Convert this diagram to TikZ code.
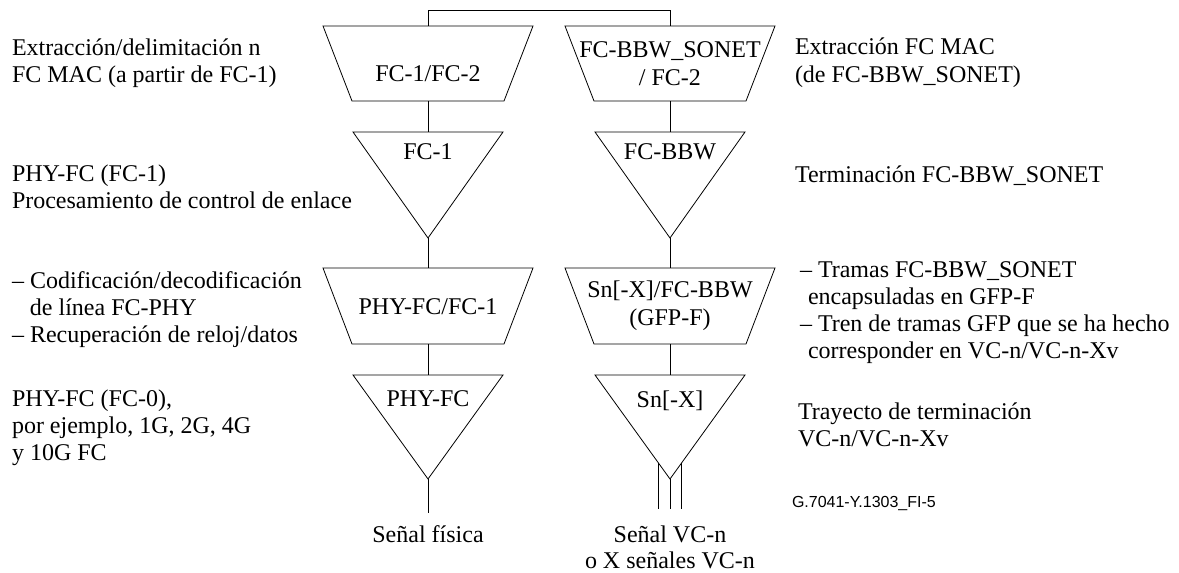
\documentclass[tikz,border=0pt]{standalone}
\usepackage{fontspec}
\setmainfont{Liberation Serif}
\newfontfamily\codefont{Liberation Sans}
\usetikzlibrary{calc}

\begin{document}
\begin{tikzpicture}[x=0.5pt,y=-0.5pt,
  every node/.style={inner sep=0pt, outer sep=0pt, font=\fontsize{12}{13.5}\selectfont},
  boxtext/.style={anchor=base, align=center, font=\fontsize{12}{14}\selectfont},
  desc/.style={anchor=base west, align=left}]

\useasboundingbox (0,0) rectangle (1179,573);

% Blocks of both columns (l = FC-PHY, r = FC-BBW over SONET)
\foreach \cx/\col in {428/l,670/r} {
  % adaptation (trapezium)
  \draw (\cx-105,26) -- (\cx+105,26) -- (\cx+76,101) -- (\cx-76,101) -- cycle;
  \draw (\cx-105,268) -- (\cx+105,268) -- (\cx+76,344) -- (\cx-76,344) -- cycle;
  % termination (triangle)
  \draw (\cx-75,132) -- (\cx+75,132) -- (\cx,238) -- cycle;
  \draw (\cx-75,375) -- (\cx+75,375) -- (\cx,479) -- cycle;
  \coordinate (adaone-\col-top) at (\cx,26);
  \coordinate (adaone-\col-bot) at (\cx,101);
  \coordinate (trmone-\col-top) at (\cx,132);
  \coordinate (trmone-\col-bot) at (\cx,238);
  \coordinate (adatwo-\col-top) at (\cx,268);
  \coordinate (adatwo-\col-bot) at (\cx,344);
  \coordinate (trmtwo-\col-top) at (\cx,375);
  \coordinate (trmtwo-\col-bot) at (\cx,479);
}

% Texts in the blocks (multi-line: y is the last baseline)
\node[boxtext] (fcmac) at (428,81) {FC-1/FC-2};
\node[boxtext] (sonet) at (670,85) {FC-BBW\_SONET\\/ FC-2};
\node[boxtext] (fcone) at (428,159) {FC-1};
\node[boxtext] (bbw) at (670,159) {FC-BBW};
\node[boxtext] (phyfc) at (428,314) {PHY-FC/FC-1};
\node[boxtext] (gfp) at (670,325) {Sn[-X]/FC-BBW\\(GFP-F)};
\node[boxtext] (phy) at (428,406) {PHY-FC};
\node[boxtext] (snx) at (670,407) {Sn[-X]};

% Connections
\draw (adaone-l-top) -- ++(0,-16) -| (adaone-r-top);
\foreach \col in {l,r} {
  \draw (adaone-\col-bot) -- (trmone-\col-top);
  \draw (trmone-\col-bot) -- (adatwo-\col-top);
  \draw (adatwo-\col-bot) -- (trmtwo-\col-top);
}
\draw (trmtwo-l-bot) -- ++(0,34);
\draw (trmtwo-r-bot) -- ++(0,30);
\draw ($(trmtwo-r-bot)+(-11.5,-16)$) -- ++(0,46);
\draw ($(trmtwo-r-bot)+(11.5,-16)$) -- ++(0,46);

% Descriptions, left
\node[desc] (lextr) at (12,83) {Extracción/delimitación n\\FC MAC (a partir de FC-1)};
\node[desc] (lproc) at (12,208) {PHY-FC (FC-1)\\Procesamiento de control de enlace};
\node[desc] (lcod) at (12,342) {– Codificación/decodificación\\\phantom{– }de línea FC-PHY\\– Recuperación de reloj/datos};
\node[desc] (lfczero) at (12,460) {PHY-FC (FC-0),\\por ejemplo, 1G, 2G, 4G\\y 10G FC};

% Descriptions, right
\node[desc] (rextr) at (795,82) {Extracción FC MAC\\(de FC-BBW\_SONET)};
\node[desc] (rterm) at (795,182) {Terminación FC-BBW\_SONET};
\node[desc] (rgfp) at (800,358) {– Tramas FC-BBW\_SONET\\\hspace{4pt}encapsuladas en GFP-F\\– Tren de tramas GFP que se ha hecho\\\hspace{4pt}corresponder en VC-n/VC-n-Xv};
\node[desc] (rtray) at (798,446) {Trayecto de terminación\\VC-n/VC-n-Xv};
\node[anchor=base west, font=\codefont\fontsize{8}{9}\selectfont] (figcode) at (792,507) {G.7041-Y.1303\_FI-5};

% Signals
\node[anchor=base] (sfis) at (428,542) {Señal física};
\node[boxtext, font=\fontsize{12}{13}\selectfont] (svc) at (670,568) {Señal VC-n\\o X señales VC-n};

\end{tikzpicture}
\end{document}
